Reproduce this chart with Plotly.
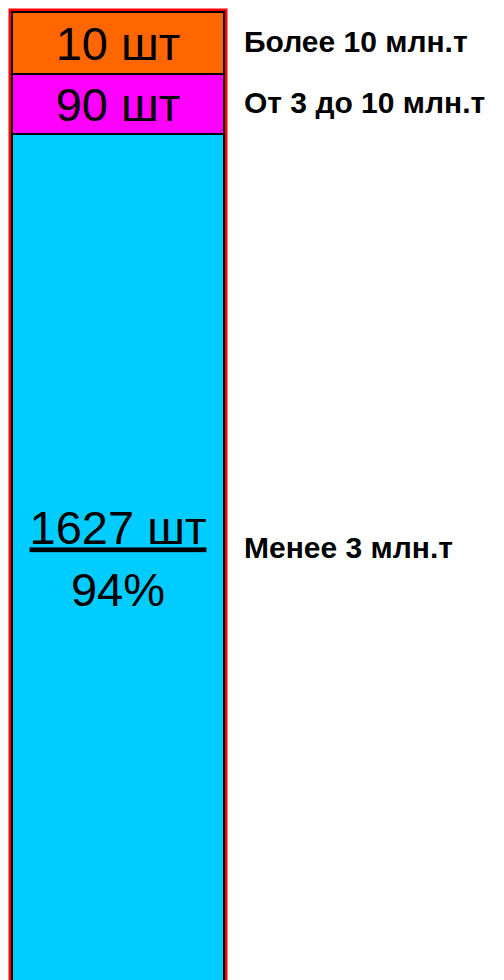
import plotly.graph_objects as go

# segments from bottom to top
groups = ["Менее 3 млн.т", "От 3 до 10 млн.т", "Более 10 млн.т"]
counts = [1627, 90, 10]
shares = [94, None, None]
# schematic segment heights as drawn in the picture (not proportional to counts)
seg_height = [849, 60, 62]
colors = ["#00CCFF", "#FF00FF", "#FF6600"]

FONT = "Liberation Sans, Arial, sans-serif"

fig = go.Figure()

# red frame behind the column
fig.add_bar(
    x=[0],
    y=[sum(seg_height)],
    width=1,
    marker=dict(color="#FF0000", line=dict(color="#FF0000", width=7)),
    hoverinfo="skip",
    showlegend=False,
)

base = 0
for name, n, pct, h, c in zip(groups, counts, shares, seg_height, colors):
    label = f"{n} шт"
    if pct is not None:
        label = f"<u>{label}</u><br>{pct}%"
    fig.add_bar(
        x=[0],
        y=[h],
        base=[base],
        width=1,
        name=name,
        marker=dict(color=c, line=dict(color="#000000", width=2)),
        text=[label],
        textposition="inside",
        insidetextanchor="middle",
        textangle=0,
        constraintext="none",
        textfont=dict(family=FONT, size=47, color="#000000"),
        showlegend=False,
    )
    fig.add_annotation(
        x=0.585,
        y=base + h / 2,
        xref="x",
        yref="y",
        xanchor="left",
        yanchor="middle",
        text=f"<b>{name}</b>",
        showarrow=False,
        yshift=11 if pct is not None else 2,
        font=dict(family=FONT, size=30, color="#000000"),
    )
    base += h

fig.update_layout(
    width=504,
    height=980,
    margin=dict(l=0, r=0, t=0, b=0),
    barmode="overlay",
    plot_bgcolor="white",
    paper_bgcolor="white",
    xaxis=dict(range=[-0.5566, 1.8208], visible=False, fixedrange=True),
    yaxis=dict(range=[3, 983], visible=False, fixedrange=True),
)

fig.write_html(
    "out.html",
    config={"displayModeBar": False},
    post_script="document.body.style.margin = '0';",
)
